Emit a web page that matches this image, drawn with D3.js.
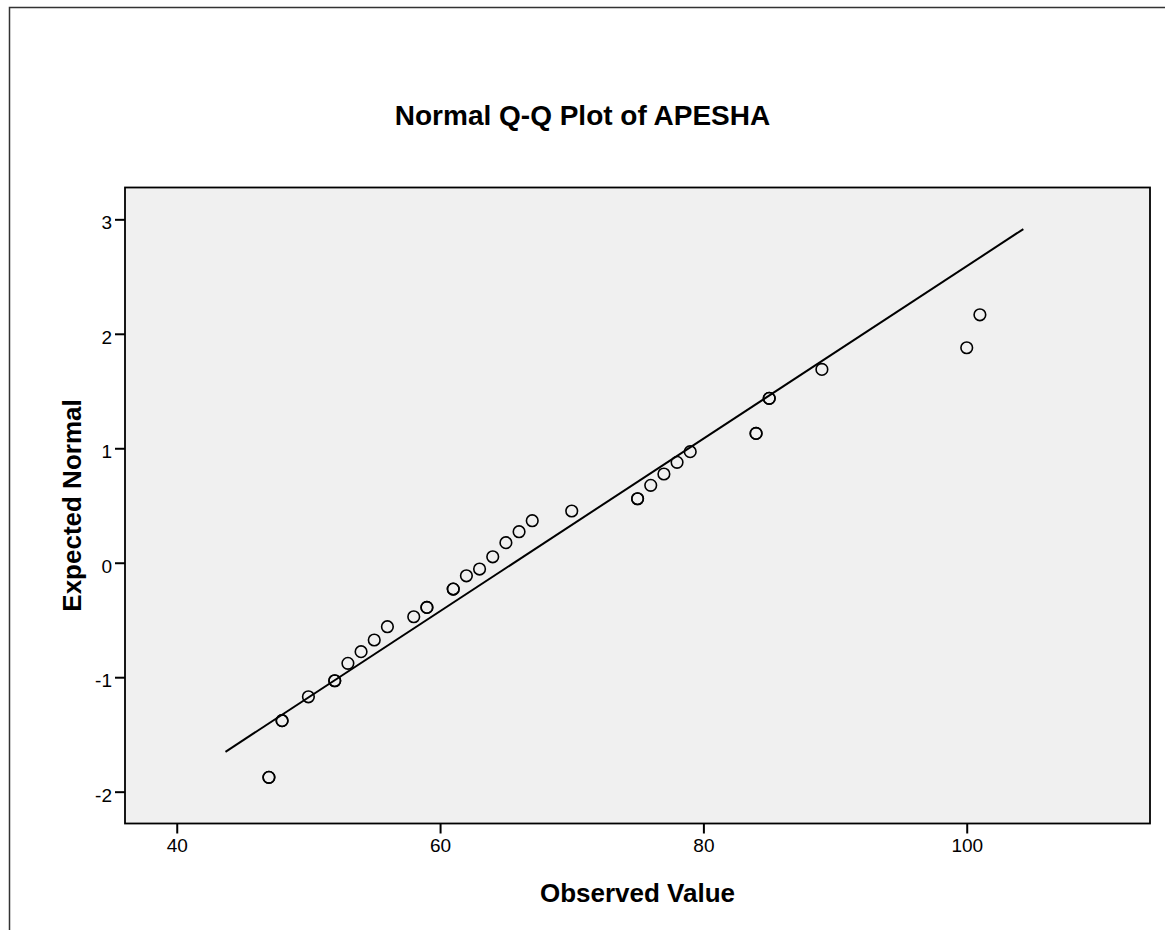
<!DOCTYPE html>
<html>
<head>
<meta charset="utf-8">
<title>Normal Q-Q Plot of APESHA</title>
<script src="https://cdn.jsdelivr.net/npm/d3@7"></script>
<style>
    body { margin: 0; background: #fff; }
    svg { display: block; font-family: "Liberation Sans", Arial, sans-serif; }
</style>
</head>
<body>
<script>
// observed values, repeated where two cases sit on the same spot
const observed = [47, 47, 48, 48, 50, 52, 52, 53, 54, 55, 56, 58, 59, 59, 61, 61, 62, 63, 64, 65, 66, 67, 70, 75, 75, 76, 77, 78, 79, 84, 84, 85, 85, 89, 100, 101]
const expected = [-1.875, -1.875, -1.380, -1.380, -1.171, -1.031, -1.031, -0.879, -0.777, -0.675, -0.559, -0.472, -0.390, -0.390, -0.230, -0.230, -0.114, -0.055, 0.052, 0.175, 0.271, 0.367, 0.452, 0.559, 0.559, 0.676, 0.775, 0.877, 0.970, 1.130, 1.130, 1.436, 1.436, 1.689, 1.878, 2.166]

// reference line: z = (x - mean) / sd
const mean = 65.62
const sd = 13.27
const lineRange = [43.7, 104.3]

const xTicks = [40, 60, 80, 100]
const yTicks = [-2, -1, 0, 1, 2, 3]
const xDomain = [36.07, 113.92]
const yDomain = [-2.278, 3.278]

const width = 1165
const height = 930
const plot = { left: 125, top: 187.5, right: 1150, bottom: 823.5 }

function drawChart() {
    const svg = d3.select("body").append("svg")
        .attr("width", width)
        .attr("height", height)

    // outer frame, runs off the right and bottom of the picture
    svg.append("rect")
        .attr("x", 9.5)
        .attr("y", 7.5)
        .attr("width", width + 20)
        .attr("height", height + 20)
        .attr("fill", "#fff")
        .attr("stroke", "#333")
        .attr("stroke-width", 1.5)

    const x = d3.scaleLinear().domain(xDomain).range([plot.left, plot.right])
    const y = d3.scaleLinear().domain(yDomain).range([plot.bottom, plot.top])

    svg.append("rect")
        .attr("x", plot.left)
        .attr("y", plot.top)
        .attr("width", plot.right - plot.left)
        .attr("height", plot.bottom - plot.top)
        .attr("fill", "#f0f0f0")

    // plain hyphen for negatives, like the original
    const plain = d => String(d)

    const xAxis = svg.append("g")
        .attr("transform", `translate(0,${plot.bottom})`)
        .call(d3.axisBottom(x).tickValues(xTicks).tickFormat(plain).tickSize(10).tickPadding(5).tickSizeOuter(0))
    const yAxis = svg.append("g")
        .attr("transform", `translate(${plot.left},0)`)
        .call(d3.axisLeft(y).tickValues(yTicks).tickFormat(plain).tickSize(10).tickPadding(3).tickSizeOuter(0))

    ;[xAxis, yAxis].forEach(ax => {
        ax.select(".domain").remove()
        ax.selectAll(".tick line").attr("stroke", "#000").attr("stroke-width", 2)
        ax.selectAll(".tick text")
            .attr("fill", "#000")
            .style("font-size", "19px")
            .style("font-family", "Liberation Sans, Arial, sans-serif")
    })
    yAxis.selectAll(".tick text").attr("dy", "0.5em")

    svg.append("rect")
        .attr("x", plot.left)
        .attr("y", plot.top)
        .attr("width", plot.right - plot.left)
        .attr("height", plot.bottom - plot.top)
        .attr("fill", "none")
        .attr("stroke", "#000")
        .attr("stroke-width", 1.8)

    // reference line
    svg.append("line")
        .attr("x1", x(lineRange[0]))
        .attr("y1", y((lineRange[0] - mean) / sd))
        .attr("x2", x(lineRange[1]))
        .attr("y2", y((lineRange[1] - mean) / sd))
        .attr("stroke", "#000")
        .attr("stroke-width", 2)

    const points = observed.map((v, i) => ({ obs: v, exp: expected[i] }))
    svg.append("g")
        .selectAll("circle")
        .data(points)
        .join("circle")
        .attr("cx", d => x(d.obs))
        .attr("cy", d => y(d.exp))
        .attr("r", 5.8)
        .attr("fill", "none")
        .attr("stroke", "#000")
        .attr("stroke-width", 1.6)

    svg.append("text")
        .attr("x", width / 2)
        .attr("y", 125)
        .attr("text-anchor", "middle")
        .style("font-size", "28px")
        .style("font-weight", "bold")
        .text("Normal Q-Q Plot of APESHA")

    svg.append("text")
        .attr("x", (plot.left + plot.right) / 2)
        .attr("y", 902)
        .attr("text-anchor", "middle")
        .style("font-size", "26px")
        .style("font-weight", "bold")
        .text("Observed Value")

    svg.append("text")
        .attr("transform", `translate(80.5,${(plot.top + plot.bottom) / 2}) rotate(-90)`)
        .attr("text-anchor", "middle")
        .style("font-size", "26px")
        .style("font-weight", "bold")
        .text("Expected Normal")
}

drawChart()
</script>
</body>
</html>
